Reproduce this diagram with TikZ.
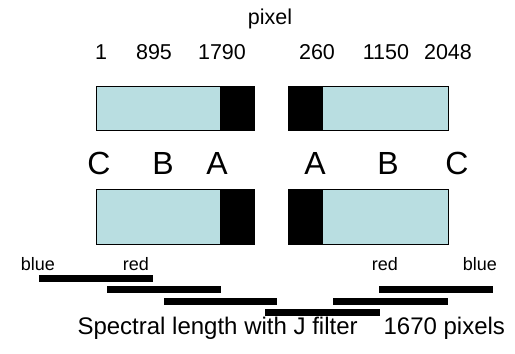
\documentclass[tikz,border=0pt]{standalone}
\usepackage{fontspec}
\setsansfont{Liberation Sans}
\usetikzlibrary{positioning}
\definecolor{chip}{RGB}{185,222,225}
\tikzset{det/.style={draw, line width=0.7pt, fill=chip, inner sep=0pt, minimum width=158pt},
  dark/.style={fill=black, inner sep=0pt, minimum width=34pt},
  bar/.style={line width=7pt},
  num/.style={font=\sffamily\fontsize{21.5}{24}\selectfont},
  zone/.style={font=\sffamily\fontsize{32}{34}\selectfont},
  tag/.style={font=\sffamily\fontsize{18}{20}\selectfont}}

\begin{document}
\begin{tikzpicture}[x=1pt, y=-1pt, font=\sffamily]
  \useasboundingbox (0,0) rectangle (515,354);
  % detectors, upper row
  \node[det, minimum height=44pt] (ul) at (175,108) {};
  \node[dark, minimum height=44pt, anchor=east] (ulA) at (ul.east) {};
  \node[det, minimum height=44pt, minimum width=160pt] (ur) at (368,108) {};
  \node[dark, minimum height=44pt, minimum width=35pt, anchor=west] (urA) at (ur.west) {};
  % detectors, lower row
  \node[det, minimum height=55pt] (ll) at (175,216.5) {};
  \node[dark, minimum height=55pt, anchor=east] (llA) at (ll.east) {};
  \node[det, minimum height=55pt, minimum width=160pt] (lr) at (368,216.5) {};
  \node[dark, minimum height=55pt, minimum width=35pt, anchor=west] (lrA) at (lr.west) {};
  % pixel numbers
  \node[num] (px) at (270,19) {pixel};
  \node[num] (n1) at (101,52) {1};
  \node[num] (n2) at (154,52) {895};
  \node[num] (n3) at (222,52) {1790};
  \node[num] (n4) at (317,52) {260};
  \node[num] (n5) at (386,52) {1150};
  \node[num] (n6) at (448,52) {2048};
  % zones
  \node[zone] (zC1) at (99,163) {C};
  \node[zone] (zB1) at (163,163) {B};
  \node[zone] (zA1) at (217,163) {A};
  \node[zone] (zA2) at (315,163) {A};
  \node[zone] (zB2) at (388,163) {B};
  \node[zone] (zC2) at (457,163) {C};
  % spectral coverage
  \node[tag] (b1) at (38,264) {blue};
  \node[tag] (r1) at (136,264) {red};
  \node[tag] (r2) at (385,264) {red};
  \node[tag] (b2) at (480,264) {blue};
  \draw[bar] (39,278) -- (153,278);
  \draw[bar] (107,289) -- (221,289);
  \draw[bar] (164,301) -- (277,301);
  \draw[bar] (265,312) -- (380,312);
  \draw[bar] (333,301) -- (448,301);
  \draw[bar] (379,289) -- (493,289);
  \node[font=\sffamily\fontsize{24}{26}\selectfont, anchor=west] (note) at (74,328)
    {Spectral length with J filter\hspace{26pt}1670 pixels};
\end{tikzpicture}
\end{document}
